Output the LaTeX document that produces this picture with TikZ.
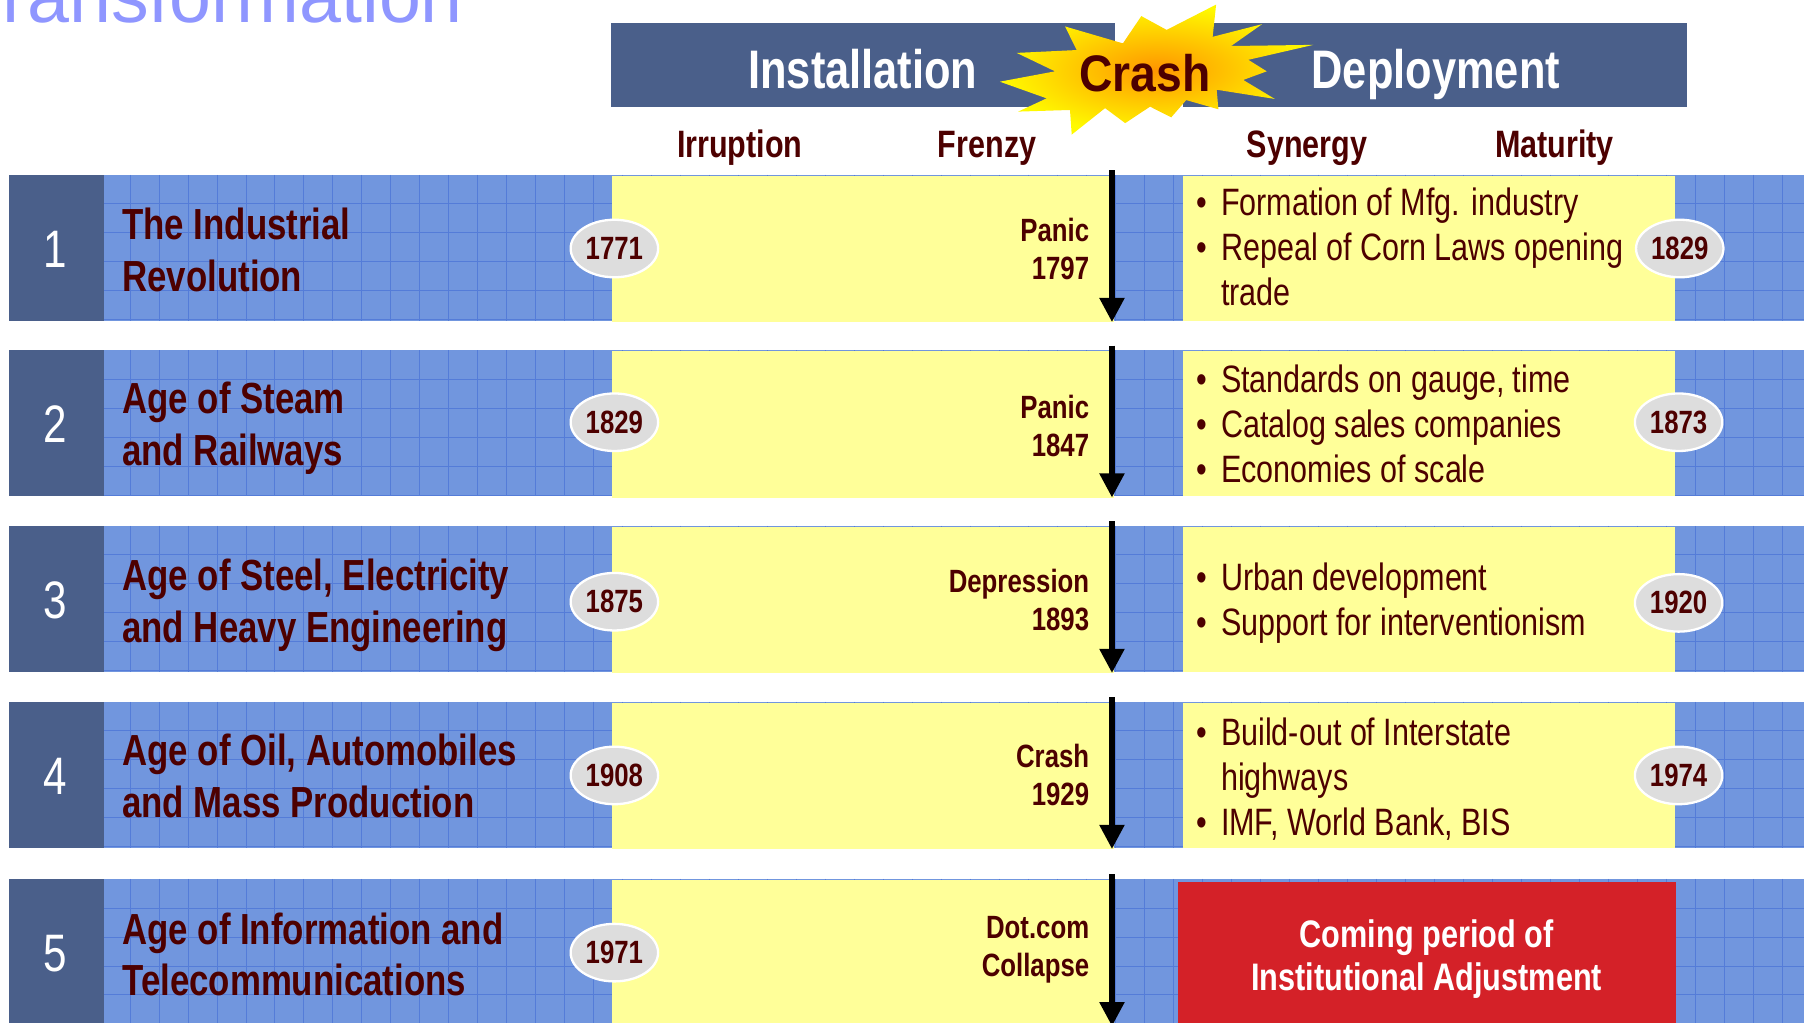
\documentclass[tikz,border=0pt]{standalone}
\usepackage{fontspec}
\setmainfont{Liberation Sans}
\newfontfamily\cnd{Liberation Sans}[FakeStretch=0.8]
\newfontfamily\cndc{Liberation Sans}[FakeStretch=0.9]
\usetikzlibrary{shapes.geometric,arrows.meta}
\definecolor{slate}{RGB}{74,95,138}
\definecolor{band}{RGB}{113,150,222}
\definecolor{gridc}{RGB}{84,124,216}
\definecolor{yel}{RGB}{255,255,153}
\definecolor{maroon}{RGB}{77,0,0}
\definecolor{oval}{RGB}{221,221,221}
\definecolor{redbox}{RGB}{212,33,40}
\definecolor{titleblue}{RGB}{143,150,255}
\definecolor{starorange}{RGB}{255,150,0}
\definecolor{staryellow}{RGB}{255,250,0}
\tikzset{
 titletxt/.style={anchor=west, inner sep=0pt, align=left, text=maroon, font=\cnd\bfseries\fontsize{22.7}{27}\selectfont},
 numtxt/.style={inner sep=0pt, text=white, font=\cnd\fontsize{27.5}{30}\selectfont},
 crashtxt/.style={anchor=east, inner sep=0pt, align=right, text=maroon, font=\cnd\bfseries\fontsize{16.8}{19.8}\selectfont},
 yearoval/.style={ellipse, fill=oval, draw=white, line width=1.2pt, minimum width=45.6pt, minimum height=30pt, inner sep=0pt, text=maroon, font=\cnd\bfseries\fontsize{16.8}{18}\selectfont},
 bullettxt/.style={anchor=west, inner sep=0pt, text=maroon, font=\cnd\fontsize{19.9}{23.4}\selectfont},
 headtxt/.style={anchor=base, inner sep=0pt, text=white, font=\cnd\bfseries\fontsize{28.3}{32}\selectfont},
 subhead/.style={anchor=base, inner sep=0pt, text=maroon, font=\cnd\bfseries\fontsize{19.9}{22}\selectfont},
 crasharrow/.style={line width=3pt, -{Triangle[width=12.4pt,length=12.6pt]}},
 gridline/.style={draw=gridc, line width=0.5pt},
 redtxt/.style={inner sep=0pt, align=center, text=white, font=\cnd\bfseries\fontsize{20}{22.8}\selectfont},
}
\newcommand\bl{\makebox[12.6pt][l]{\textbullet}}
\newcommand\rowband[2]{%
 \fill[band] (90,#2) rectangle (1568,#2+127);
 \begin{scope}
 \clip (90,#2) rectangle (1568,#2+127);
 \foreach \gx in {0,...,58} {\draw[gridline] (113+25.2*\gx,#2) -- (113+25.2*\gx,#2+127);}
 \foreach \gy in {1,...,5} {\draw[gridline] (90,#2+25.2*\gy) -- (1568,#2+25.2*\gy);}
 \end{scope}
 \fill[slate] (8,#2) rectangle (90,#2+127);
 \node[numtxt] (num#1) at (48,#2+64.5) {#1};
 \fill[yel] (532,#2+1) rectangle (968,#2+128);
}
\begin{document}
\begin{tikzpicture}[x=0.6pt,y=-0.6pt]
\useasboundingbox (0,0) rectangle (1568,889);
\clip (0,0) rectangle (1568,889);
\fill[white] (0,0) rectangle (1568,889);

% title (cut off at the top edge, as in the reference)
\node[anchor=base west, inner sep=0pt, text=titleblue, font=\fontsize{39.3}{45}\selectfont] (title) at (-36,19.5) {Transformation};

% header
\fill[slate] (531,20) rectangle (969,93);
\fill[slate] (1028,20) rectangle (1466,93);
\node[headtxt] (inst) at (750,77) {Installation};
\node[headtxt] (depl) at (1248,77) {Deployment};
\shade[inner color=starorange, outer color=staryellow]
 (1057,4) -- (1054,32) -- (1097,21) -- (1070,40) -- (1141.5,39) -- (1085,52) -- (1101,62) -- (1080.6,69.5)
 -- (1108,86) -- (1057.5,78) -- (1059,95) -- (1031,87) -- (1018,102) -- (999.6,92.7) -- (978,107)
 -- (960.5,94) -- (931.5,117) -- (930,95.6) -- (885,97) -- (909.7,85.5) -- (869,71) -- (917,62)
 -- (883.7,46) -- (935.8,43.5) -- (925.7,23) -- (976,37.7) -- (992,14) -- (1014,26) -- cycle;
\node[anchor=base, inner sep=0pt, text=maroon, font=\cndc\bfseries\fontsize{26.8}{30}\selectfont] (crash) at (995,79.5) {Crash};

\node[subhead] (irr) at (643,137) {Irruption};
\node[subhead] (fre) at (858,137) {Frenzy};
\node[subhead] (syn) at (1136,137) {Synergy};
\node[subhead] (mat) at (1351,137) {Maturity};

% rows
\rowband{1}{152}
\rowband{2}{304.5}
\rowband{3}{457}
\rowband{4}{610}
\rowband{5}{764}

% right boxes
\fill[yel] (1028,153) rectangle (1456,279);
\fill[yel] (1028,305.5) rectangle (1456,431.5);
\fill[yel] (1028,458) rectangle (1456,584);
\fill[yel] (1028,611) rectangle (1456,737);
\fill[redbox] (1024,767) rectangle (1457,895);

% titles
\node[titletxt] (t1) at (106,217.5) {The Industrial\\Revolution};
\node[titletxt] (t2) at (106,372.4) {Age of Steam\\and Railways};
\node[titletxt] (t3) at (106,526) {Age of Steel, Electricity\\and Heavy Engineering};
\node[titletxt] (t4) at (106,674.5) {Age of Oil, Automobiles\\and Mass Production};
\node[titletxt] (t5) at (106,829.5) {Age of Information and\\Telecommunications};

% start years
\node[yearoval] (s1) at (534,216) {1771};
\node[yearoval] (s2) at (534,367) {1829};
\node[yearoval] (s3) at (534,523) {1875};
\node[yearoval] (s4) at (534,674) {1908};
\node[yearoval] (s5) at (534,828) {1971};

% end years
\node[yearoval] (e1) at (1460,216) {1829};
\node[yearoval] (e2) at (1459,367) {1873};
\node[yearoval] (e3) at (1459,524) {1920};
\node[yearoval] (e4) at (1459,674) {1974};

% crash labels
\node[crashtxt] (c1) at (947,216.5) {Panic\\1797};
\node[crashtxt] (c2) at (947,370.5) {Panic\\1847};
\node[crashtxt] (c3) at (947,521.5) {Depression\\1893};
\node[crashtxt] (c4) at (947,673.5) {Crash\\1929};
\node[crashtxt] (c5) at (947,825.5) {Dot.com\\Collapse};

% bullets
\node[bullettxt] (b1) at (1040,218.5) {\begin{tabular}{@{}l@{}}\bl Formation of Mfg. industry\\\bl Repeal of Corn Laws opening\\\hspace{12.6pt}trade\end{tabular}};
\node[bullettxt] (b2) at (1040,372.5) {\begin{tabular}{@{}l@{}}\bl Standards on gauge, time\\\bl Catalog sales companies\\\bl Economies of scale\end{tabular}};
\node[bullettxt] (b3) at (1040,524.7) {\begin{tabular}{@{}l@{}}\bl Urban development\\\bl Support for interventionism\end{tabular}};
\node[bullettxt] (b4) at (1040,679.2) {\begin{tabular}{@{}l@{}}\bl Build-out of Interstate\\\hspace{12.6pt}highways\\\bl IMF, World Bank, BIS\end{tabular}};
\node[redtxt] (r5) at (1240,833.5) {Coming period of\\Institutional Adjustment};

% crash arrows
\coordinate (a1t) at (966.5,148); \coordinate (a1b) at (966.5,280);
\coordinate (a2t) at (966.5,300.5); \coordinate (a2b) at (966.5,432.5);
\coordinate (a3t) at (966.5,453); \coordinate (a3b) at (966.5,585);
\coordinate (a4t) at (966.5,606); \coordinate (a4b) at (966.5,738);
\coordinate (a5t) at (966.5,760); \coordinate (a5b) at (966.5,892);
\draw[crasharrow] (a1t) -- (a1b);
\draw[crasharrow] (a2t) -- (a2b);
\draw[crasharrow] (a3t) -- (a3b);
\draw[crasharrow] (a4t) -- (a4b);
\draw[crasharrow] (a5t) -- (a5b);
\end{tikzpicture}
\end{document}
